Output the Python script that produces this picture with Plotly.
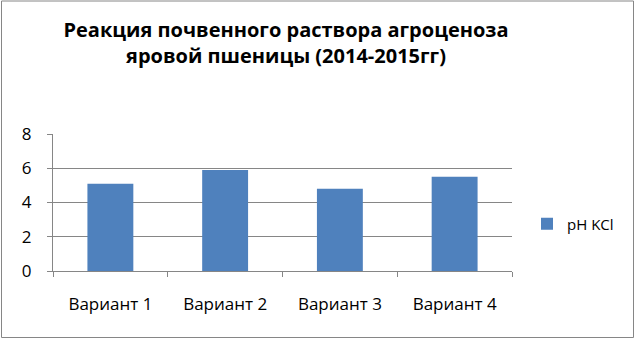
import plotly.graph_objects as go

categories = ["Вариант 1", "Вариант 2", "Вариант 3", "Вариант 4"]
ph_kcl = [5.1, 5.9, 4.8, 5.5]
series_name = "pH KCl"
title_text = "Реакция почвенного раствора агроценоза<br>яровой пшеницы (2014-2015гг)"

W, H = 640, 339
L, R, T, B = 53, 128, 134, 68
pw, ph = W - L - R, H - T - B

fig = go.Figure()
fig.add_trace(go.Bar(x=categories, y=ph_kcl, name=series_name,
                     marker=dict(color="#4F81BD", line=dict(width=0))))

fig.update_layout(
    width=W, height=H,
    margin=dict(l=L, r=R, t=T, b=B),
    paper_bgcolor="white", plot_bgcolor="white",
    bargap=0.6,
    showlegend=True,
    font=dict(family="Open Sans, Liberation Sans, sans-serif", color="#000000", size=16),
    title=dict(text=title_text, x=286 / W, xanchor="center", yref="container",
               y=1 - 37 / H, yanchor="middle",
               font=dict(family="Open Sans, sans-serif", size=20, color="#000000", weight="bold")),
    legend=dict(x=(527 - L) / pw, y=(271 - 224) / ph, xanchor="left", yanchor="middle",
                font=dict(size=15), itemwidth=30, bgcolor="rgba(0,0,0,0)"),
    xaxis=dict(showline=True, linecolor="#868686", linewidth=1, ticks="outside",
               tickson="boundaries", ticklen=5, tickcolor="#868686", showgrid=False,
               tickfont=dict(size=17), ticklabelstandoff=18),
    yaxis=dict(range=[0, 8], dtick=2, showline=True, linecolor="#868686", linewidth=1,
               ticks="outside", ticklen=5, tickcolor="#868686", showgrid=True,
               gridcolor="#868686", gridwidth=1, zeroline=False,
               tickfont=dict(size=17), ticklabelstandoff=12),
)

fig.add_shape(type="rect", xref="paper", yref="paper",
              x0=(1.5 - L) / pw, x1=(633.5 - L) / pw,
              y0=(H - B - 337.5) / ph, y1=(H - B - 1) / ph,
              line=dict(color="#868686", width=1), fillcolor="rgba(0,0,0,0)")

fig.write_html("out.html", config={"displayModeBar": False},
               post_script="document.body.style.margin='0';document.body.style.overflow='hidden';")
